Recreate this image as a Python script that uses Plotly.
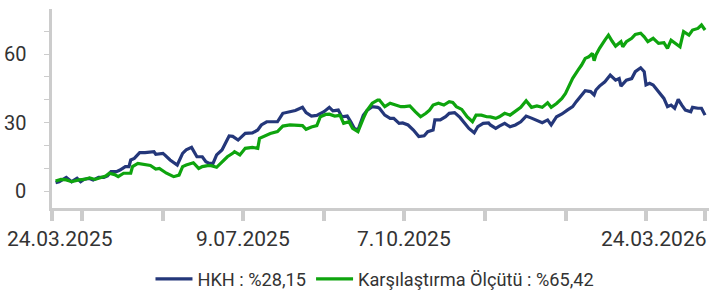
import pandas as pd
import plotly.graph_objects as go

start_date = "2025-03-24"

# HKH series: day offsets from start date and cumulative return (%)
hkh_days = [2, 4, 8, 11, 14, 16, 18, 21, 23, 26, 29, 31, 33, 36, 38, 41, 43, 44, 46, 49,
            52, 55, 57, 58, 62, 63, 66, 70, 73, 75, 78, 81, 84, 86, 88, 90, 92, 95, 99, 101,
            104, 108, 112, 115, 117, 120, 122, 126, 129, 133, 136, 140, 142, 145, 148, 152, 155, 157, 160, 162,
            165, 167, 169, 171, 174, 176, 179, 182, 183, 186, 189, 191, 194, 196, 199, 202, 205, 208, 210, 213,
            214, 217, 220, 222, 225, 228, 231, 233, 236, 238, 241, 244, 245, 248, 250, 253, 256, 259, 262, 265,
            268, 271, 274, 277, 279, 282, 285, 288, 291, 293, 295, 298, 301, 303, 304, 306, 309, 312, 315, 317,
            318, 321, 324, 326, 329, 331, 332, 334, 336, 339, 342, 344, 346, 348, 350, 352, 354, 357, 358, 361,
            363, 365]
hkh_values = [3.8, 4.2, 6.1, 4.2, 5.7, 4.2, 5.3, 5.6, 4.9, 6.1, 6.1, 6.7, 8.6, 8.6, 9.3, 10.8, 10.8, 13.7, 14.4, 16.9,
              16.9, 17.3, 17.3, 16.2, 16.6, 15.9, 13.7, 11.5, 16.6, 18.1, 19.2, 15.1, 15.1, 12.9, 12.2, 12.2, 15.9, 18.1, 24.2, 24.0,
              22.4, 25.3, 25.5, 26.8, 29.0, 30.4, 30.4, 30.4, 34.1, 34.8, 35.3, 36.7, 34.4, 32.9, 33.2, 34.8, 36.7, 35.2, 35.5, 32.6,
              32.9, 30.4, 27.5, 26.8, 33.2, 35.3, 37.0, 36.7, 36.3, 33.3, 31.9, 31.9, 29.7, 29.9, 29.0, 26.8, 23.9, 24.3, 26.1, 26.8,
              31.2, 31.2, 32.6, 34.1, 34.4, 32.3, 29.7, 27.5, 25.6, 28.3, 29.7, 29.9, 29.0, 27.5, 28.5, 29.7, 28.2, 29.0, 30.4, 32.9,
              32.0, 30.9, 30.0, 31.2, 29.0, 32.6, 33.8, 35.5, 37.0, 39.2, 41.3, 44.0, 43.6, 42.1, 44.3, 46.0, 47.9, 50.8, 48.6, 49.3,
              46.0, 48.6, 49.3, 52.3, 54.0, 52.3, 46.5, 47.2, 46.5, 43.5, 40.6, 37.0, 37.7, 36.3, 40.2, 37.7, 35.5, 34.8, 36.7, 36.3,
              36.3, 33.3]

# Benchmark series
bench_days = [2, 5, 8, 11, 15, 18, 21, 24, 27, 30, 32, 35, 37, 40, 44, 45, 48, 52, 55, 58,
              60, 64, 68, 71, 73, 75, 79, 82, 84, 87, 89, 92, 95, 98, 101, 102, 105, 108, 112, 115,
              116, 119, 122, 126, 129, 133, 137, 140, 142, 145, 148, 150, 153, 155, 158, 161, 163, 166, 168, 171,
              174, 176, 179, 182, 183, 186, 189, 192, 195, 197, 200, 203, 206, 209, 211, 213, 216, 219, 222, 224,
              226, 229, 232, 235, 237, 240, 243, 245, 248, 250, 253, 256, 259, 262, 265, 268, 271, 274, 277, 279,
              282, 285, 287, 289, 291, 294, 296, 298, 300, 302, 303, 304, 306, 309, 311, 313, 315, 318, 319, 321,
              324, 326, 329, 331, 333, 336, 339, 342, 344, 346, 349, 351, 353, 356, 358, 361, 363, 365]
bench_values = [4.5, 5.2, 5.0, 4.2, 5.0, 5.2, 5.9, 5.2, 5.9, 6.7, 7.9, 7.3, 6.4, 7.9, 7.9, 10.8, 12.2, 11.8, 11.3, 9.7,
                10.0, 7.9, 6.4, 7.1, 10.8, 11.5, 12.5, 10.0, 10.8, 11.2, 11.2, 10.5, 12.9, 15.1, 16.6, 17.3, 15.9, 18.8, 19.2, 18.8,
                23.2, 24.2, 25.3, 26.1, 28.5, 29.0, 29.0, 28.7, 27.1, 28.1, 28.7, 32.6, 33.6, 33.7, 32.9, 33.2, 29.7, 30.4, 27.5, 26.1,
                31.9, 35.3, 38.5, 39.9, 39.9, 37.0, 38.5, 37.8, 37.0, 37.0, 37.3, 34.8, 32.6, 34.1, 35.5, 37.7, 38.5, 37.7, 39.2, 38.8,
                37.0, 35.8, 32.6, 30.4, 33.3, 33.3, 32.6, 32.5, 31.9, 32.6, 34.1, 33.3, 34.8, 36.7, 39.6, 36.7, 37.3, 36.7, 38.7, 36.7,
                38.4, 40.6, 42.8, 46.5, 49.4, 53.0, 55.2, 58.1, 58.8, 60.3, 57.1, 59.6, 62.5, 66.1, 68.3, 65.7, 63.5, 65.4, 63.2, 65.4,
                66.9, 68.6, 69.1, 67.5, 65.4, 66.9, 64.7, 65.0, 62.5, 66.1, 64.4, 63.2, 69.8, 68.3, 70.5, 71.2, 72.7, 70.5]

hkh_name = "HKH : %28,15"
bench_name = "Karşılaştırma Ölçütü : %65,42"

x_tick_days = [0, 17, 62, 107, 152, 197, 242, 287, 332, 365]
x_label_days = [0, 107, 197, 365]
x_label_texts = ["24.03.2025", "9.07.2025", "7.10.2025", "24.03.2026"]
y_tick_values = [0, 10, 20, 30, 40, 50, 60, 70]
y_label_values = [0, 30, 60]
y_label_texts = ["0", "30", "60"]

t0 = pd.Timestamp(start_date)
hkh_dates = t0 + pd.to_timedelta(hkh_days, unit="D")
bench_dates = t0 + pd.to_timedelta(bench_days, unit="D")
x_tick_dates = t0 + pd.to_timedelta(x_tick_days, unit="D")
x_label_dates = t0 + pd.to_timedelta(x_label_days, unit="D")

NAVY = "#24377a"
GREEN = "#0ea40e"
AXIS = "#cccccc"
TEXT = "#333333"
FONT = "Roboto"

fig = go.Figure()
fig.add_trace(go.Scatter(x=hkh_dates, y=hkh_values, mode="lines", name=hkh_name,
                         line=dict(color=NAVY, width=3.2)))
fig.add_trace(go.Scatter(x=bench_dates, y=bench_values, mode="lines", name=bench_name,
                         line=dict(color=GREEN, width=3.2)))

fig.update_layout(
    width=709, height=290,
    margin=dict(l=52, r=0, t=9, b=82, autoexpand=False),
    paper_bgcolor="white", plot_bgcolor="white",
    font=dict(family=FONT, color=TEXT, size=20),
    showlegend=True,
    legend=dict(orientation="h", x=0.4916, xanchor="center", y=-0.357, yanchor="middle",
                font=dict(size=18.2, color=TEXT), itemwidth=37, tracegroupgap=0),
    xaxis=dict(
        type="date",
        range=[t0, t0 + pd.Timedelta(days=367.2)],
        tickmode="array", tickvals=x_tick_dates, ticktext=[""] * len(x_tick_dates),
        ticks="outside", ticklen=10, tickwidth=4, tickcolor=AXIS,
        showline=True, linecolor=AXIS, linewidth=3,
        showgrid=False, zeroline=False, automargin=False,
    ),
    yaxis=dict(
        range=[-7.3, 79.7],
        tickmode="array", tickvals=y_tick_values, ticktext=[""] * len(y_tick_values),
        ticks="outside", ticklen=5, tickwidth=1, tickcolor=AXIS,
        showline=True, linecolor=AXIS, linewidth=3,
        showgrid=False, zeroline=False, automargin=False,
    ),
)

anchors = ["left", "center", "center", "right"]
shifts = [-47, 0, 0, 4]
for d, txt, anc, sh in zip(x_label_dates, x_label_texts, anchors, shifts):
    fig.add_annotation(x=d, y=0, xref="x", yref="paper", text=txt,
                       showarrow=False, xanchor=anc, yanchor="top", xshift=sh, yshift=-17,
                       font=dict(size=21, color=TEXT))

for v, txt in zip(y_label_values, y_label_texts):
    fig.add_annotation(x=0, y=v, xref="paper", yref="y", text=txt,
                       showarrow=False, xanchor="right", yanchor="middle", xshift=-24,
                       font=dict(size=20, color=TEXT))

fig.write_html("out.html", config={"displayModeBar": False},
               post_script="document.body.style.margin='0';")
